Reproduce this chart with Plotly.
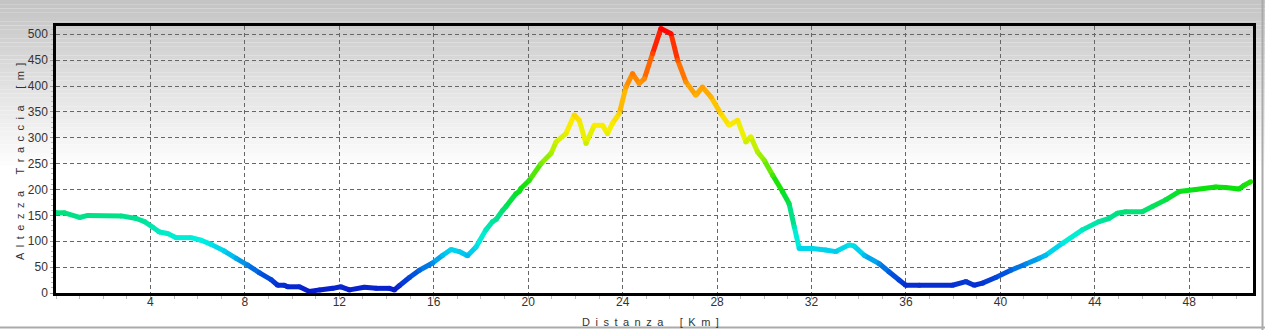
import plotly.graph_objects as go
from plotly.colors import sample_colorscale

# ---- data ----
dist_km = [0.0, 0.36, 1.0, 1.35, 2.76, 3.4, 3.75, 4.1, 4.38, 4.73, 5.09, 5.72, 6.15, 6.57,
           7.13, 7.63, 8.12, 8.62, 9.11, 9.39, 9.67, 9.81, 10.31, 10.73, 11.16, 11.72, 12.07,
           12.43, 13.06, 13.56, 14.12, 14.33, 14.54, 14.97, 15.39, 15.95, 16.38, 16.73, 17.08,
           17.43, 17.79, 17.93, 18.21, 18.49, 18.64, 18.92, 19.06, 19.48, 19.62, 19.69, 20.05,
           20.54, 20.97, 21.18, 21.6, 21.95, 22.16, 22.45, 22.8, 23.15, 23.36, 23.57, 23.86,
           24.14, 24.42, 24.7, 24.92, 25.27, 25.62, 26.05, 26.33, 26.68, 27.1, 27.38, 27.74,
           28.16, 28.51, 28.87, 29.22, 29.43, 29.71, 29.99, 30.35, 30.77, 31.05, 31.27, 31.48,
           32.04, 32.6, 33.03, 33.59, 33.8, 34.23, 34.86, 35.28, 35.71, 35.99, 36.56, 37.97,
           38.54, 38.89, 39.24, 39.8, 40.44, 41.08, 41.64, 41.92, 42.63, 43.47, 44.18, 44.6,
           44.95, 45.31, 46.01, 46.44, 47.0, 47.57, 48.27, 49.12, 49.54, 50.11, 50.32, 50.6]
alt_m = [155, 155, 146, 150, 149, 144, 138, 127, 118, 115, 107, 107, 102, 94,
         81, 67, 54, 39, 26, 15, 15, 12, 12, 3, 6, 9, 12,
         6, 11, 9, 9, 6, 14, 30, 44, 58, 73, 84, 80,
         72, 89, 100, 122, 138, 142, 160, 167, 192, 196, 202, 218,
         250, 270, 292, 308, 344, 334, 289, 324, 324, 308, 328, 347,
         398, 424, 405, 414, 463, 511, 501, 450, 408, 382, 398, 379,
         347, 324, 334, 292, 302, 273, 257, 228, 196, 173, 128, 86,
         86, 83, 80, 93, 91, 73, 57, 41, 25, 15, 15, 15,
         22, 15, 19, 30, 44, 56, 67, 73, 96, 122, 138, 144,
         154, 157, 157, 167, 180, 196, 200, 205, 204, 201, 208, 215]

x_ticks = [4, 8, 12, 16, 20, 24, 28, 32, 36, 40, 44, 48]
y_ticks = [0, 50, 100, 150, 200, 250, 300, 350, 400, 450, 500]

x_title = "Distanza [Km]"
y_title = "Altezza Traccia [m]"

Y_MAX = 516.0
X_MAX = 50.7

elev_scale = [
    [0.00, "rgb(10,20,200)"],
    [0.08, "rgb(0,90,225)"],
    [0.15, "rgb(0,200,240)"],
    [0.20, "rgb(0,240,225)"],
    [0.29, "rgb(0,225,140)"],
    [0.40, "rgb(10,225,10)"],
    [0.53, "rgb(170,240,0)"],
    [0.63, "rgb(250,240,0)"],
    [0.78, "rgb(255,160,0)"],
    [1.00, "rgb(255,0,0)"],
]


def spaced(s):
    """Wide letter spacing as in the reference."""
    out = []
    for w in s.split(" "):
        out.append("\u2002".join(list(w)))
    return "\u2002\u2002\u2002".join(out)


fig = go.Figure()

# colored segments
for i in range(len(dist_km) - 1):
    mid = (alt_m[i] + alt_m[i + 1]) / 2.0
    col = sample_colorscale(elev_scale, [min(max(mid / 510.0, 0), 1)])[0]
    fig.add_trace(go.Scatter(
        x=[dist_km[i], dist_km[i + 1]], y=[alt_m[i], alt_m[i + 1]],
        mode="lines", line=dict(color=col, width=5),
        hoverinfo="skip", showlegend=False))

# joint markers to smooth the joins
fig.add_trace(go.Scatter(
    x=dist_km, y=alt_m, mode="markers",
    marker=dict(size=5, color=[min(a / 510.0, 1) for a in alt_m],
                colorscale=elev_scale, cmin=0, cmax=1, line=dict(width=0)),
    hoverinfo="skip", showlegend=False))

# ---- background gradient (figure-wide vertical gradient) ----
W, H = 1265, 330
L, R, T, B = 56, 12, 26, 37
pw, ph = W - L - R, H - T - B
shapes = []
n_bands = 40
grad_top, grad_bot = 0, 170
for k in range(n_bands):
    y0 = grad_top + (grad_bot - grad_top) * k / n_bands
    y1 = grad_top + (grad_bot - grad_top) * (k + 1) / n_bands
    t = k / (n_bands - 1)
    g = int(196 + (255 - 196) * t)
    shapes.append(dict(
        type="rect", xref="paper", yref="paper", layer="below",
        x0=(0 - L) / pw, x1=(W - L) / pw,
        y0=(H - B - y1) / ph, y1=(H - B - y0) / ph,
        fillcolor=f"rgb({g},{g},{g})", line=dict(width=0)))
# outer frame lines (bottom / right)
shapes.append(dict(type="line", xref="paper", yref="paper", layer="above",
                   x0=(0 - L) / pw, x1=(W - L) / pw,
                   y0=(H - B - 327.5) / ph, y1=(H - B - 327.5) / ph,
                   line=dict(color="rgb(170,170,170)", width=2)))
shapes.append(dict(type="line", xref="paper", yref="paper", layer="above",
                   x0=(1262.5 - L) / pw, x1=(1262.5 - L) / pw,
                   y0=(H - B - 0) / ph, y1=(H - B - 330) / ph,
                   line=dict(color="rgb(170,170,170)", width=2)))

font_fam = "Liberation Sans, Arial, sans-serif"

annotations = [
    dict(text=spaced(x_title), xref="paper", yref="paper",
         x=(650 - L) / pw, y=(H - B - 322) / ph, xanchor="center", yanchor="middle",
         showarrow=False, font=dict(size=11, color="#333333")),
    dict(text=spaced(y_title), xref="paper", yref="paper", textangle=-90,
         x=(20 - L) / pw, y=(H - B - 162) / ph, xanchor="center", yanchor="middle",
         showarrow=False, font=dict(size=11, color="#333333")),
]

fig.update_layout(
    width=W, height=H,
    margin=dict(l=L, r=R, t=T, b=B, autoexpand=False),
    paper_bgcolor="white",
    plot_bgcolor="rgba(0,0,0,0)",
    shapes=shapes,
    annotations=annotations,
    showlegend=False,
    font=dict(family=font_fam, size=12, color="#333333"),
    xaxis=dict(
        range=[0, X_MAX], tickvals=x_ticks, ticktext=[str(v) for v in x_ticks],
        showgrid=True, gridcolor="#666666", griddash="4px,3px", gridwidth=1,
        showline=True, linecolor="black", linewidth=2.5, mirror=True,
        ticks="", zeroline=False, ticklabelstandoff=-4, automargin=False,
        minor=dict(dtick=1, tick0=0, ticks="outside", ticklen=3, tickcolor="#bbbbbb",
                   showgrid=False),
        tickfont=dict(size=12, color="#333333"),
    ),
    yaxis=dict(
        range=[0, Y_MAX], tickvals=y_ticks, ticktext=[str(v) for v in y_ticks],
        showgrid=True, gridcolor="#666666", griddash="4px,3px", gridwidth=1,
        showline=True, linecolor="black", linewidth=2.5, mirror=True,
        ticks="outside", ticklen=3, tickcolor="#999999", zeroline=False,
        automargin=False,
        minor=dict(dtick=10, tick0=0, ticks="outside", ticklen=2, tickcolor="#bbbbbb",
                   showgrid=False),
        tickfont=dict(size=12, color="#333333"),
    ),
)

fig.write_html("out.html")
